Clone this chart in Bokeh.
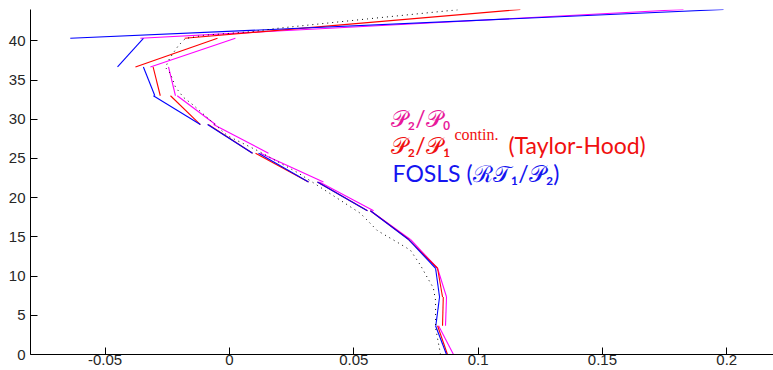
from bokeh.plotting import figure
from bokeh.models import Range1d, FixedTicker, Label
from bokeh.embed import file_html
from bokeh.resources import INLINE

# element boundaries (depth)
y_bottom = [0.0, 3.67, 7.33, 11.0, 14.67, 18.33, 22.0, 25.67, 29.33, 33.0, 36.67, 40.33]
y_top = [3.67, 7.33, 11.0, 14.67, 18.33, 22.0, 25.67, 29.33, 33.0, 36.67, 40.33, 44.0]

# P2/P0 : value at bottom / top of each element
p2p0_bottom = [0.0901, 0.0869, 0.0873, 0.0837, 0.0728, 0.0580, 0.0378, 0.0157, -0.0056, -0.0217, -0.0318, -0.0358]
p2p0_top = [0.0841, 0.0873, 0.0837, 0.0728, 0.0567, 0.0362, 0.0125, -0.0064, -0.0210, -0.0245, 0.0024, 0.1826]

# P2/P1 continuous (Taylor-Hood)
th_bottom = [0.0877, 0.0857, 0.0857, 0.0837, 0.0722, 0.0555, 0.0318, 0.0093, -0.0117, -0.0278, -0.0378, -0.0180]
th_top = [0.0837, 0.0860, 0.0837, 0.0720, 0.0567, 0.0354, 0.0105, -0.0085, -0.0237, -0.0307, -0.0048, 0.1170]

# FOSLS (RT1/P2)
fosls_bottom = [0.0873, 0.0830, 0.0845, 0.0829, 0.0720, 0.0555, 0.0318, 0.0093, -0.0117, -0.0300, -0.0450, -0.0640]
fosls_top = [0.0829, 0.0845, 0.0829, 0.0720, 0.0567, 0.0354, 0.0117, -0.0088, -0.0306, -0.0346, -0.0346, 0.1987]

# reference curve (dotted)
ref_y = [0.0, 3.4, 6.9, 8.5, 9.8, 11.4, 13.3, 14.3, 15.8, 18.0, 20.5, 23.2, 26.0, 27.9, 29.5, 31.8, 32.8,
         34.1, 35.8, 36.6, 37.5, 38.5, 39.4, 40.3, 40.7, 41.2, 41.6, 42.8, 44.0]
ref_x = [0.0849, 0.0829, 0.0829, 0.0820, 0.0796, 0.0768, 0.0728, 0.0676, 0.0595, 0.0527, 0.0406, 0.0274,
         0.0113, -0.0008, -0.0064, -0.0145, -0.0185, -0.0217, -0.0237, -0.0257, -0.0245, -0.0225, -0.0205,
         -0.0177, -0.0105, 0.0097, 0.0193, 0.0555, 0.0929]

x_ticks = [-0.05, 0, 0.05, 0.1, 0.15, 0.2]
x_tick_labels = ["-0.05", "0", "0.05", "0.1", "0.15", "0.2"]
y_ticks = [0, 5, 10, 15, 20, 25, 30, 35, 40]

p = figure(width=773, height=370, output_backend="svg", toolbar_location=None,
           x_range=Range1d(-0.08, 0.2188), y_range=Range1d(0, 44))
p.min_border_left = 30
p.min_border_right = 0
p.min_border_top = 9
p.min_border_bottom = 16
p.outline_line_color = None
p.xgrid.visible = False
p.ygrid.visible = False
p.background_fill_color = "white"
p.border_fill_color = "white"

p.segment(x0=p2p0_bottom, y0=y_bottom, x1=p2p0_top, y1=y_top, line_color="#ff00ff", line_width=1.1)
p.segment(x0=th_bottom, y0=y_bottom, x1=th_top, y1=y_top, line_color="#ff0000", line_width=1.1)
p.segment(x0=fosls_bottom, y0=y_bottom, x1=fosls_top, y1=y_top, line_color="#0000ff", line_width=1.1)
p.line(ref_x, ref_y, line_color="black", line_width=1, line_dash="1 4")

for ax in (p.xaxis[0], p.yaxis[0]):
    ax.axis_line_color = "black"
    ax.major_tick_line_color = "black"
    ax.major_tick_in = 7
    ax.major_tick_out = 0
    ax.minor_tick_line_color = None
    ax.major_label_text_font = "Liberation Sans"
    ax.major_label_text_font_size = "15px"
    ax.major_label_text_color = "#262626"

p.xaxis.ticker = FixedTicker(ticks=x_ticks)
p.xaxis.major_label_overrides = {t: l for t, l in zip(x_ticks, x_tick_labels)}
p.xaxis.major_label_standoff = 0
p.yaxis.ticker = FixedTicker(ticks=y_ticks)
p.yaxis.major_label_standoff = 5

P = "\U0001D4AB"
lab_font = "Lato"
lab_size = "23px"
p.add_layout(Label(x=0.0648, y=30.1, text=P + "\u2082/" + P + "\u2080", text_color="#e8189a",
                   text_font=lab_font, text_font_size=lab_size, text_baseline="alphabetic"))
p.add_layout(Label(x=0.0648, y=26.7, text=P + "\u2082/" + P + "\u2081", text_color="#f01010",
                   text_font=lab_font, text_font_size=lab_size, text_baseline="alphabetic"))
p.add_layout(Label(x=0.0905, y=28.0, text="contin.", text_color="#f01010",
                   text_font="Liberation Serif", text_font_size="16px", text_baseline="alphabetic"))
p.add_layout(Label(x=0.1122, y=26.7, text="(Taylor-Hood)", text_color="#f01010",
                   text_font=lab_font, text_font_size=lab_size, text_baseline="alphabetic"))
p.add_layout(Label(x=0.0656, y=23.1, text="FOSLS (\u211B\U0001D4AF\u2081/" + P + "\u2082)", text_color="#1515f0",
                   text_font=lab_font, text_font_size=lab_size, text_baseline="alphabetic"))

open("out.html", "w").write(file_html(p, INLINE))
